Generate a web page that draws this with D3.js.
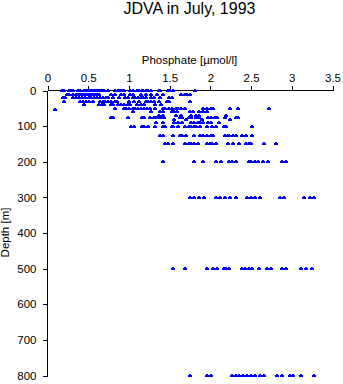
<!DOCTYPE html>
<html>
<head>
<meta charset="utf-8">
<script src="https://cdn.jsdelivr.net/npm/d3@7"></script>
<style>
  html, body { margin: 0; padding: 0; background: #fff; }
  svg { display: block; }
  text { font-family: "Liberation Sans", Arial, Helvetica, sans-serif; fill: #000; }
</style>
</head>
<body>
<svg id="chart" width="343" height="384"></svg>
<script>
// Sampling depths (m) of the JDVA stations
const depthLevels = [0, 10, 20, 30, 40, 50, 52, 60, 70, 75, 80, 90, 100, 125, 150, 200, 300, 500, 800];

// Phosphate concentrations (µmol/l) measured at each depth level
const phosphate0   = [0.19,0.21,0.27,0.30,0.32,0.38,0.41,0.46,0.48,0.50,0.53,0.55,0.58,0.60,0.63,0.65,0.68,0.70,0.75,0.84,0.87,0.90,0.92,0.95,1.02,1.06,1.10,1.13,1.17,1.18,1.21,1.24,1.28,1.37,1.39,1.49,1.51,1.55,1.82];
const phosphate10  = [0.25,0.27,0.32,0.35,0.37,0.39,0.42,0.44,0.47,0.49,0.52,0.54,0.57,0.59,0.62,0.64,0.78,0.84,0.91,0.95,1.02,1.06,1.16,1.21,1.28,1.35,1.42,1.64,1.69,1.72,1.75];
const phosphate20  = [0.20,0.22,0.32,0.36,0.39,0.43,0.47,0.51,0.54,0.58,0.62,0.65,0.69,0.73,0.75,0.81,0.89,0.96,1.00,1.05,1.08,1.12,1.15,1.18,1.21,1.28,1.32,1.39,1.50,1.54];
const phosphate30  = [0.21,0.41,0.44,0.48,0.52,0.57,0.65,0.69,0.71,0.75,0.79,0.83,0.86,1.01,1.07,1.13,1.21,1.24,1.28,1.32,1.37,1.47,1.50,1.75];
const phosphate40  = [0.46,0.64,0.68,0.70,0.78,0.81,0.87,0.91,0.95,0.99,1.02,1.11,1.15,1.19,1.33,1.40];
const phosphate50  = [0.84,0.94,0.97,1.01,1.05,1.08,1.12,1.16,1.19,1.23,1.27,1.33,1.42,1.45,1.50,1.54,1.58,1.61,1.65,1.70,1.92,1.97,2.01,2.04,2.25,2.35,2.73];
const phosphate52  = [0.10];
const phosphate60  = [1.06,1.28,1.39,1.43,1.53,1.56,1.60,1.75,1.79,1.87,1.91,1.97];
const phosphate70  = [1.38,1.43,1.59,1.65,1.77,1.83,1.87,2.20];
const phosphate75  = [0.78,0.81,0.99,1.17,1.19,1.27,1.31,1.34,1.39,1.44,1.63,1.66,1.74,1.77,1.83,1.87,1.98,2.02,2.06,2.09,2.19,2.32,2.35];
const phosphate80  = [1.56,1.71,1.90,2.25];
const phosphate90  = [1.34,1.42,1.56,1.61,1.66,1.77,1.80,1.85,1.88,1.92,1.98,2.02,2.11];
const phosphate100 = [1.03,1.07,1.17,1.19,1.24,1.33,1.42,1.45,1.53,1.55,1.61,1.70,1.74,1.77,1.81,1.83,1.88,1.96,2.03,2.07,2.17,2.20,2.52];
const phosphate125 = [1.39,1.43,1.55,1.63,1.66,1.71,1.81,1.88,1.92,1.97,2.01,2.04,2.18,2.22,2.24,2.28,2.32,2.40,2.44,2.52];
const phosphate150 = [1.45,1.49,1.55,1.70,1.74,1.77,1.81,1.85,1.96,2.00,2.03,2.07,2.22,2.28,2.36,2.44,2.48,2.50,2.67,2.81];
const phosphate200 = [1.43,1.80,1.92,2.08,2.14,2.23,2.27,2.32,2.48,2.51,2.55,2.59,2.65,2.71,2.88,2.93];
const phosphate300 = [1.75,1.81,1.87,1.93,2.07,2.12,2.19,2.25,2.32,2.45,2.51,2.56,2.61,2.86,2.91,3.15,3.23,3.28];
const phosphate500 = [1.55,1.70,1.97,2.04,2.09,2.17,2.20,2.24,2.39,2.43,2.48,2.52,2.60,2.70,2.75,2.88,2.94,3.12,3.18,3.26];
const phosphate800 = [1.76,1.96,2.01,2.27,2.32,2.36,2.41,2.45,2.50,2.56,2.61,2.66,2.82,2.88,2.98,3.02,3.12,3.28];

const phosphateByDepth = [phosphate0, phosphate10, phosphate20, phosphate30, phosphate40, phosphate50, phosphate52,
  phosphate60, phosphate70, phosphate75, phosphate80, phosphate90, phosphate100, phosphate125, phosphate150,
  phosphate200, phosphate300, phosphate500, phosphate800];

// Axis ticks
const xTicks = [0, 0.5, 1, 1.5, 2, 2.5, 3, 3.5];
const yTicks = [0, 100, 200, 300, 400, 500, 600, 700, 800];

const titleText = "JDVA in July, 1993";
const xLabel = "Phosphate [\u00b5mol/l]";
const yLabel = "Depth [m]";

// Flatten into (phosphate, depth) samples
const samples = [];
depthLevels.forEach((d, i) => phosphateByDepth[i].forEach(p => samples.push({ p, d })));

const svg = d3.select("#chart");
const x = d3.scaleLinear().domain([0, 3.5]).range([47, 332]);
const y = d3.scaleLinear().domain([0, 800]).range([90, 375]);

// Title
svg.append("text")
  .attr("x", (x.range()[0] + x.range()[1]) / 2)
  .attr("y", 14)
  .attr("text-anchor", "middle")
  .style("font-size", "16px")
  .text(titleText);

// Top phosphate axis
const gx = svg.append("g")
  .attr("transform", `translate(0.5,${y(0) + 0.5})`)
  .call(d3.axisTop(x).tickValues(xTicks).tickSize(5).tickPadding(4).tickSizeOuter(0)
    .tickFormat(d3.format("")));
gx.selectAll("text").style("font-size", "11.5px");
gx.selectAll("line, path").attr("stroke", "#000").attr("stroke-width", 1).attr("shape-rendering", "crispEdges");
gx.select(".domain").attr("d", `M${x(0)},0H${x(3.5)}`);

svg.append("text")
  .attr("x", (x.range()[0] + x.range()[1]) / 2)
  .attr("y", 64)
  .attr("text-anchor", "middle")
  .style("font-size", "11.5px")
  .text(xLabel);

// Left depth axis
const gy = svg.append("g")
  .attr("transform", `translate(${x(0) + 0.5},0.5)`)
  .call(d3.axisLeft(y).tickValues(yTicks).tickSize(5).tickPadding(6).tickSizeOuter(0));
gy.selectAll("text").style("font-size", "11.5px");
gy.selectAll("line, path").attr("stroke", "#000").attr("stroke-width", 1).attr("shape-rendering", "crispEdges");
gy.select(".domain").attr("d", `M0,${y(0)}V${y(800)}`);

svg.append("text")
  .attr("transform", `translate(9,${(y.range()[0] + y.range()[1]) / 2}) rotate(-90)`)
  .attr("text-anchor", "middle")
  .style("font-size", "11.5px")
  .text(yLabel);

// Sample markers: small blue crosses
svg.append("g")
  .selectAll("path")
  .data(samples)
  .join("path")
  .attr("fill", "#0000ff")
  .attr("shape-rendering", "crispEdges")
  .attr("d", s => {
    const cx = Math.round(x(s.p));
    const cy = Math.round(y(s.d));
    return `M${cx - 2},${cy}h4v2h-4z M${cx - 1},${cy - 1}h2v3h-2z`;
  });
</script>
</body>
</html>
